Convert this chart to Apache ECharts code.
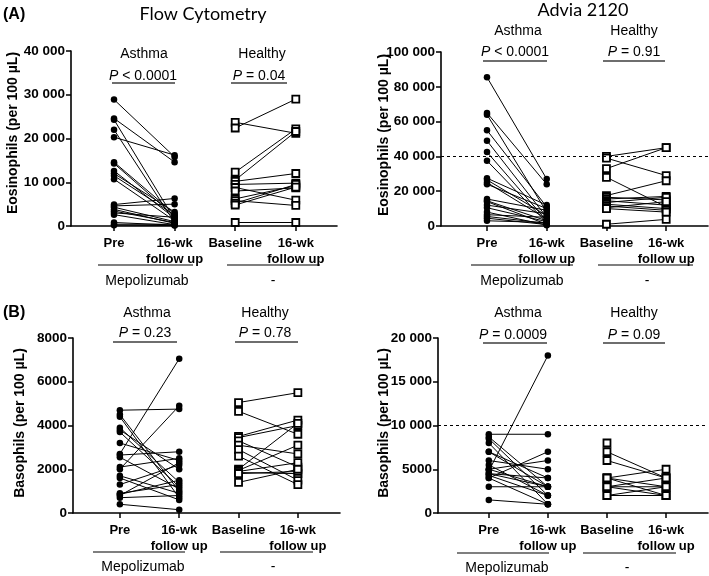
<!DOCTYPE html>
<html><head><meta charset="utf-8">
<script src="https://cdn.jsdelivr.net/npm/echarts@6/dist/echarts.min.js"></script>
<style>html,body{margin:0;padding:0;background:#fff}#c{width:709px;height:576px}</style>
</head><body><div id="c"></div>
<script>
// ---- categories / ticks ----
const catNames = ['Pre', '16-wk\nfollow up', 'Baseline', '16-wk\nfollow up'];
const groupNames = ['Asthma', 'Healthy'];
const treatNames = ['Mepolizumab', '-'];
const panelTitles = ['Flow Cytometry', 'Advia 2120'];
const yNames = ['Eosinophils (per 100 \u00b5L)', 'Eosinophils (per 100 \u00b5L)', 'Basophils (per 100 \u00b5L)', 'Basophils (per 100 \u00b5L)'];
const yMax = [40000, 100000, 8000, 20000];
const yInterval = [10000, 20000, 2000, 5000];
const thresholds = [null, 40000, null, 10000];
const pTexts = [['< 0.0001', '= 0.04'], ['< 0.0001', '= 0.91'], ['= 0.23', '= 0.78'], ['= 0.0009', '= 0.09']];

// ---- data: Flow cytometry eosinophils ----
const fcEosAsthmaPre  = [28900, 24600, 24300, 22000, 20300, 14600, 14300, 12600, 12000, 11500, 10700, 4900, 4600, 4300, 3800, 3400, 3000, 2600, 800, 400, 200];
const fcEosAsthmaPost = [15800, 14600, 1500, 800, 16200, 2800, 2200, 1800, 3200, 2500, 1200, 6300, 5000, 1000, 600, 800, 2000, 300, 200, 400, 100];
const fcEosHealthyBase = [23700, 22400, 12300, 10500, 10200, 9500, 8800, 8000, 6200, 5800, 5200, 4800, 800];
const fcEosHealthyPost = [21200, 29000, 22200, 21600, 12000, 9800, 5900, 8700, 9200, 4700, 9500, 8900, 800];
// ---- Advia eosinophils ----
const advEosAsthmaPre  = [85500, 65000, 64000, 55000, 49000, 42500, 37500, 27500, 26500, 25000, 24000, 15500, 14500, 14000, 12000, 10500, 8000, 6500, 5500, 4500, 3000];
const advEosAsthmaPost = [27000, 24000, 8000, 11000, 5000, 3000, 2000, 12000, 6000, 4000, 10000, 9000, 3000, 1000, 7000, 2500, 500, 5000, 1500, 800, 2000];
const advEosHealthyBase = [40000, 39000, 33000, 28000, 17500, 16500, 15500, 14500, 13500, 12500, 11500, 10500, 10000, 1000];
const advEosHealthyPost = [45000, 29000, 45000, 11000, 26000, 15000, 17000, 12000, 16500, 10000, 9000, 14000, 8000, 3800];
// ---- Flow cytometry basophils ----
const fcBasoAsthmaPre  = [4700, 4500, 4400, 3900, 3800, 3700, 3200, 2700, 2650, 2550, 2100, 2000, 1700, 1600, 1300, 900, 850, 800, 700, 400];
const fcBasoAsthmaPost = [4750, 1000, 700, 1400, 2000, 1200, 2400, 7050, 2800, 1100, 2500, 4900, 900, 600, 2200, 1300, 1500, 2300, 800, 150];
const fcBasoHealthyBase = [5050, 4650, 3500, 3450, 3300, 3100, 2900, 2600, 2000, 1950, 1900, 1850, 1800, 1400];
const fcBasoHealthyPost = [5500, 3600, 4250, 4000, 2100, 2700, 1500, 1300, 4100, 3100, 2300, 1800, 1900, 2000];
// ---- Advia basophils ----
const advBasoAsthmaPre  = [9000, 8700, 8500, 8000, 7000, 7000, 6000, 5500, 5000, 5000, 4800, 4500, 4500, 4300, 4000, 4000, 3000, 1500];
const advBasoAsthmaPost = [9000, 3000, 2000, 1000, 4000, 3000, 5000, 2000, 6000, 3000, 18000, 4000, 3000, 2000, 7000, 1000, 3000, 1000];
const advBasoHealthyBase = [8000, 7000, 6000, 4000, 4000, 4000, 3000, 3000, 3000, 2000, 2000];
const advBasoHealthyPost = [null, 4000, 4000, 5000, 3000, 2000, 4000, 3000, 2000, 3000, 2000];

const panelData = [
  [fcEosAsthmaPre, fcEosAsthmaPost, fcEosHealthyBase, fcEosHealthyPost],
  [advEosAsthmaPre, advEosAsthmaPost, advEosHealthyBase, advEosHealthyPost],
  [fcBasoAsthmaPre, fcBasoAsthmaPost, fcBasoHealthyBase, fcBasoHealthyPost],
  [advBasoAsthmaPre, advBasoAsthmaPost, advBasoHealthyBase, advBasoHealthyPost]
];

// ---- layout ----
const layout = [
  {left: 71, top: 51, width: 266, height: 175, xmin: -0.71, xmax: 3.68, nx: 13, ny: 133},
  {left: 441, top: 52, width: 267, height: 174, xmin: -0.77, xmax: 3.70, nx: 384, ny: 135},
  {left: 73, top: 338, width: 267, height: 175, xmin: -0.79, xmax: 3.71, nx: 20, ny: 423},
  {left: 438, top: 338, width: 270, height: 175, xmin: -0.86, xmax: 3.71, nx: 384, ny: 423}
];

const SANS = '"Liberation Sans", Arial, sans-serif';
const fmt = v => v >= 10000 ? String(v).replace(/\B(?=(\d{3})+(?!\d))/g, ' ') : String(v);

const grids = [], xAxes = [], yAxes = [], series = [];
layout.forEach((L, p) => {
  grids.push({left: L.left, top: L.top, width: L.width, height: L.height});
  xAxes.push({
    type: 'value', gridIndex: p, min: L.xmin, max: L.xmax,
    axisLine: {show: true, onZero: false, lineStyle: {color: '#000', width: 1.6}},
    axisTick: {show: true, customValues: [0, 1, 2, 3], length: 5, lineStyle: {color: '#000', width: 1.5}},
    axisLabel: {show: true, customValues: [0, 1, 2, 3], formatter: v => catNames[Math.round(v)],
      align: 'center', color: '#000', fontWeight: 'bold', fontSize: 13, fontFamily: SANS, lineHeight: 16, margin: 9},
    splitLine: {show: false}
  });
  yAxes.push({
    type: 'value', gridIndex: p, min: 0, max: yMax[p], interval: yInterval[p],
    axisLine: {show: true, onZero: false, lineStyle: {color: '#000', width: 1.6}},
    axisTick: {show: true, length: 5, lineStyle: {color: '#000', width: 1.5}},
    axisLabel: {color: '#000', fontWeight: 'bold', fontSize: 13.5, fontFamily: SANS, margin: 6, formatter: fmt},
    splitLine: {show: false}
  });
  const [aPre, aPost, hBase, hPost] = panelData[p];
  aPre.forEach((v, i) => {
    const d = [[0, v]];
    if (aPost[i] != null) d.push([1, aPost[i]]);
    const s = {type: 'line', xAxisIndex: p, yAxisIndex: p, data: d, symbol: 'circle', symbolSize: 6.5,
      lineStyle: {color: '#000', width: 1}, itemStyle: {color: '#000'}, silent: true, animation: false, z: 3};
    if (i === 0 && thresholds[p] != null) {
      s.markLine = {silent: true, symbol: 'none', label: {show: false},
        lineStyle: {type: [3, 3], color: '#000', width: 1}, data: [{yAxis: thresholds[p]}]};
    }
    series.push(s);
  });
  hBase.forEach((v, i) => {
    const d = [[2, v]];
    if (hPost[i] != null) d.push([3, hPost[i]]);
    series.push({type: 'line', xAxisIndex: p, yAxisIndex: p, data: d, symbol: 'rect', symbolSize: 7,
      lineStyle: {color: '#000', width: 1}, itemStyle: {color: '#fff', borderColor: '#000', borderWidth: 1.8},
      silent: true, animation: false, z: 3});
  });
});

// ---- annotations ----
const g = [];
function txt(x, y, t, size, opts, rot) {
  g.push({type: 'text', x: x, y: y, rotation: rot || 0, silent: true, style: Object.assign({text: t, fill: '#000', fontSize: size,
    fontFamily: SANS, textAlign: 'center', textVerticalAlign: 'middle'}, opts || {})});
}
function hline(x1, x2, y, color, w) {
  g.push({type: 'line', silent: true, shape: {x1: x1, y1: y, x2: x2, y2: y}, style: {stroke: color, lineWidth: w}});
}
function ptxt(x, y, rest) {
  g.push({type: 'text', x: x, y: y, silent: true, style: {text: '{i|P} ' + rest, fill: '#000', fontSize: 14,
    fontFamily: SANS, textAlign: 'center', textVerticalAlign: 'middle',
    rich: {i: {fontStyle: 'italic', fontSize: 14, fontFamily: SANS, fill: '#000'}}}});
}
// panel letters and titles
txt(3, 15, '(A)', 16, {fontWeight: 'bold', textAlign: 'left'});
txt(3, 313, '(B)', 16, {fontWeight: 'bold', textAlign: 'left'});
txt(203, 14, panelTitles[0], 18, {fontFamily: 'Lato, "Open Sans", sans-serif'});
txt(583, 10, panelTitles[1], 18, {fontFamily: 'Lato, "Open Sans", sans-serif'});
// y axis titles
layout.forEach((L, p) => txt(L.nx, L.ny, yNames[p], 14, {fontWeight: 'bold'}, Math.PI / 2));

const ann = [
  {grpY: 54, asx: 144, hex: 262, pY: 76, p1: 143, p2: 259, uY: 83, u1: [112, 175], u2: [231, 287],
   gY: 265, g1: [98, 193], g2: [227, 320], tY: 281, t1: 147, t2: 273},
  {grpY: 31, asx: 518, hex: 634, pY: 52, p1: 515, p2: 634, uY: 61, u1: [483, 547], u2: [603, 665],
   gY: 265, g1: [471, 573], g2: [598, 693], tY: 281, t1: 522, t2: 647},
  {grpY: 313, asx: 147, hex: 265, pY: 333, p1: 145, p2: 265, uY: 342, u1: [113, 177], u2: [235, 298],
   gY: 552, g1: [93, 185], g2: [220, 313], tY: 567, t1: 143, t2: 273},
  {grpY: 313, asx: 518, hex: 634, pY: 335, p1: 513, p2: 634, uY: 343, u1: [483, 547], u2: [603, 665],
   gY: 553, g1: [457, 549], g2: [583, 676], tY: 568, t1: 507, t2: 627}
];
ann.forEach((a, p) => {
  txt(a.asx, a.grpY, groupNames[0], 14);
  txt(a.hex, a.grpY, groupNames[1], 14);
  ptxt(a.p1, a.pY, pTexts[p][0]);
  ptxt(a.p2, a.pY, pTexts[p][1]);
  hline(a.u1[0], a.u1[1], a.uY, '#6e6e6e', 2);
  hline(a.u2[0], a.u2[1], a.uY, '#6e6e6e', 2);
  hline(a.g1[0], a.g1[1], a.gY, '#555', 1.3);
  hline(a.g2[0], a.g2[1], a.gY, '#555', 1.3);
  txt(a.t1, a.tY, treatNames[0], 14);
  txt(a.t2, a.tY, treatNames[1], 14);
});

const chart = echarts.init(document.getElementById('c'), null, {renderer: 'canvas'});
chart.setOption({
  animation: false,
  backgroundColor: '#fff',
  grid: grids, xAxis: xAxes, yAxis: yAxes, series: series, graphic: g
});
</script></body></html>
